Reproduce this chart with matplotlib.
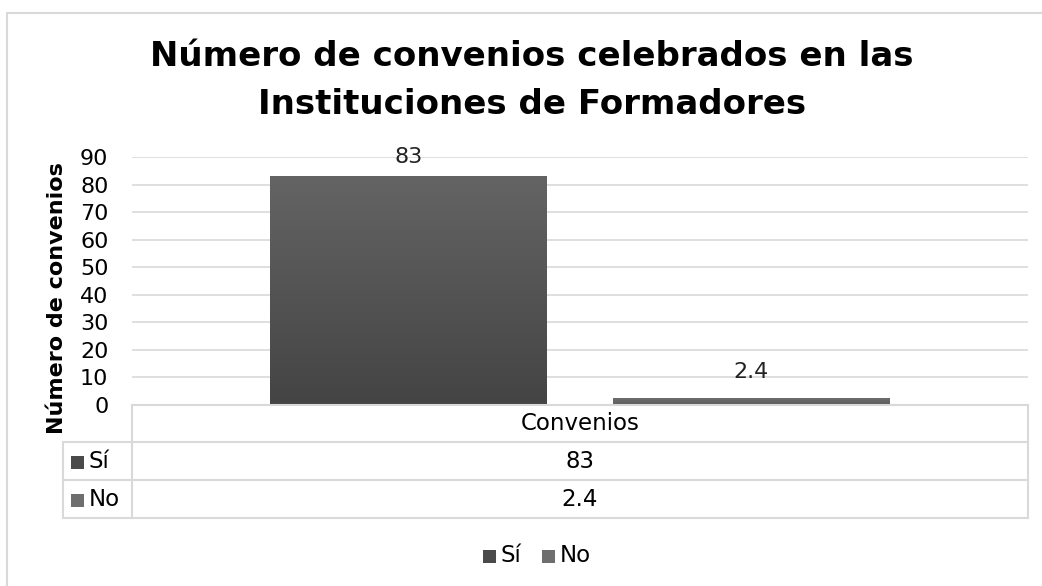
import numpy as np
import matplotlib.pyplot as plt
from matplotlib.patches import Rectangle
from matplotlib.colors import LinearSegmentedColormap

# data
categories = ['Convenios']
series = ['Sí', 'No']
values = [83, 2.4]
value_labels = ['83', '2.4']
yticks = [0, 10, 20, 30, 40, 50, 60, 70, 80, 90]

W, H = 1042, 586
fig = plt.figure(figsize=(W / 100, H / 100), dpi=100)
plt.rcParams['font.family'] = ['DejaVu Sans']

grid_c = '#d9d9d9'
# outer chart border
fig.add_artist(Rectangle((7 / W, -0.1), 1.2, 1 - 13 / H + 0.1, transform=fig.transFigure,
                         fill=False, ec=grid_c, lw=1.5))

# plot area (pixels: x 132-1028, y 157-405)
ax = fig.add_axes([132 / W, 1 - 405 / H, (1028 - 132) / W, (405 - 157) / H])
ax.set_xlim(-0.5, 0.5)
ax.set_ylim(0, 90)
ax.set_yticks(yticks)
ax.yaxis.grid(True, color=grid_c, lw=1.2)
ax.set_axisbelow(True)
for s in ax.spines.values():
    s.set_visible(False)
ax.tick_params(axis='y', length=0, labelsize=16, pad=17)
ax.set_xticks([])
ax.set_ylabel('Número de convenios', fontsize=16, fontweight='bold')
ax.yaxis.set_label_coords(-(132 - 67) / (1028 - 132), 0.43)

width = 0.309
offs = [-(0.0365 + width / 2), 0.0365 + width / 2]
cols = [('#444444', '#646464'), ('#5c5c5c', '#6e6e6e')]
grad = np.linspace(0, 1, 256).reshape(-1, 1)
for i, v in enumerate(values):
    b = ax.bar(offs[i], v, width=width, color=cols[i][0], zorder=2)[0]
    x0, y0, bw, bh = b.get_x(), b.get_y(), b.get_width(), b.get_height()
    cm = LinearSegmentedColormap.from_list('g%d' % i, [cols[i][0], cols[i][1]])
    im = ax.imshow(grad, extent=[x0, x0 + bw, y0, y0 + bh], origin='lower', aspect='auto',
                   cmap=cm, zorder=3)
    im.set_clip_path(b)
    ax.text(offs[i], min(v + 9.7, 90), value_labels[i], ha='center', va='center',
            fontsize=16, color='#222222')
ax.set_xlim(-0.5, 0.5)
ax.set_ylim(0, 90)

# data table
tx0, tx1, tc = 63, 1028, 132
rows_y = [405, 442, 480, 518]
def fx(p):
    return p / W
def fy(p):
    return 1 - p / H
def square(px, py, c):
    fig.add_artist(Rectangle((fx(px), fy(py + 6.5)), 13 / W, 13 / H, transform=fig.transFigure,
                             color=c, lw=0))
line = dict(color=grid_c, lw=1.5, transform=fig.transFigure)
fig.add_artist(plt.Line2D([fx(tc), fx(tx1)], [fy(rows_y[0]), fy(rows_y[0])], **line))
fig.add_artist(plt.Line2D([fx(tc), fx(tc)], [fy(rows_y[0]), fy(rows_y[3])], **line))
fig.add_artist(plt.Line2D([fx(tx1), fx(tx1)], [fy(rows_y[0]), fy(rows_y[3])], **line))
fig.add_artist(plt.Line2D([fx(tx0), fx(tx0)], [fy(rows_y[1]), fy(rows_y[3])], **line))
for yy in rows_y[1:]:
    fig.add_artist(plt.Line2D([fx(tx0), fx(tx1)], [fy(yy), fy(yy)], **line))
fig.text(fx((tc + tx1) / 2), fy(424), categories[0], ha='center', va='center', fontsize=16.5)
mark_cols = ['#4a4a4a', '#6e6e6e']
for i, s in enumerate(series):
    yc = (rows_y[i + 1] + rows_y[i + 2]) / 2 + 1
    square(71, yc, mark_cols[i])
    fig.text(fx(89), fy(yc), s, ha='left', va='center', fontsize=16.5)
    fig.text(fx((tc + tx1) / 2), fy(yc), value_labels[i], ha='center', va='center', fontsize=16.5)

# legend
leg_x = [483, 542]
for i, s in enumerate(series):
    square(leg_x[i], 556, mark_cols[i])
    fig.text(fx(leg_x[i] + 18), fy(556), s, ha='left', va='center', fontsize=16.5)

# title
fig.text(fx(532), fy(57), 'Número de convenios celebrados en las', ha='center', va='center',
         fontsize=24.5, fontweight='semibold')
fig.text(fx(532), fy(104), 'Instituciones de Formadores', ha='center', va='center',
         fontsize=24.5, fontweight='semibold')

fig.savefig('out.png', dpi=100)
